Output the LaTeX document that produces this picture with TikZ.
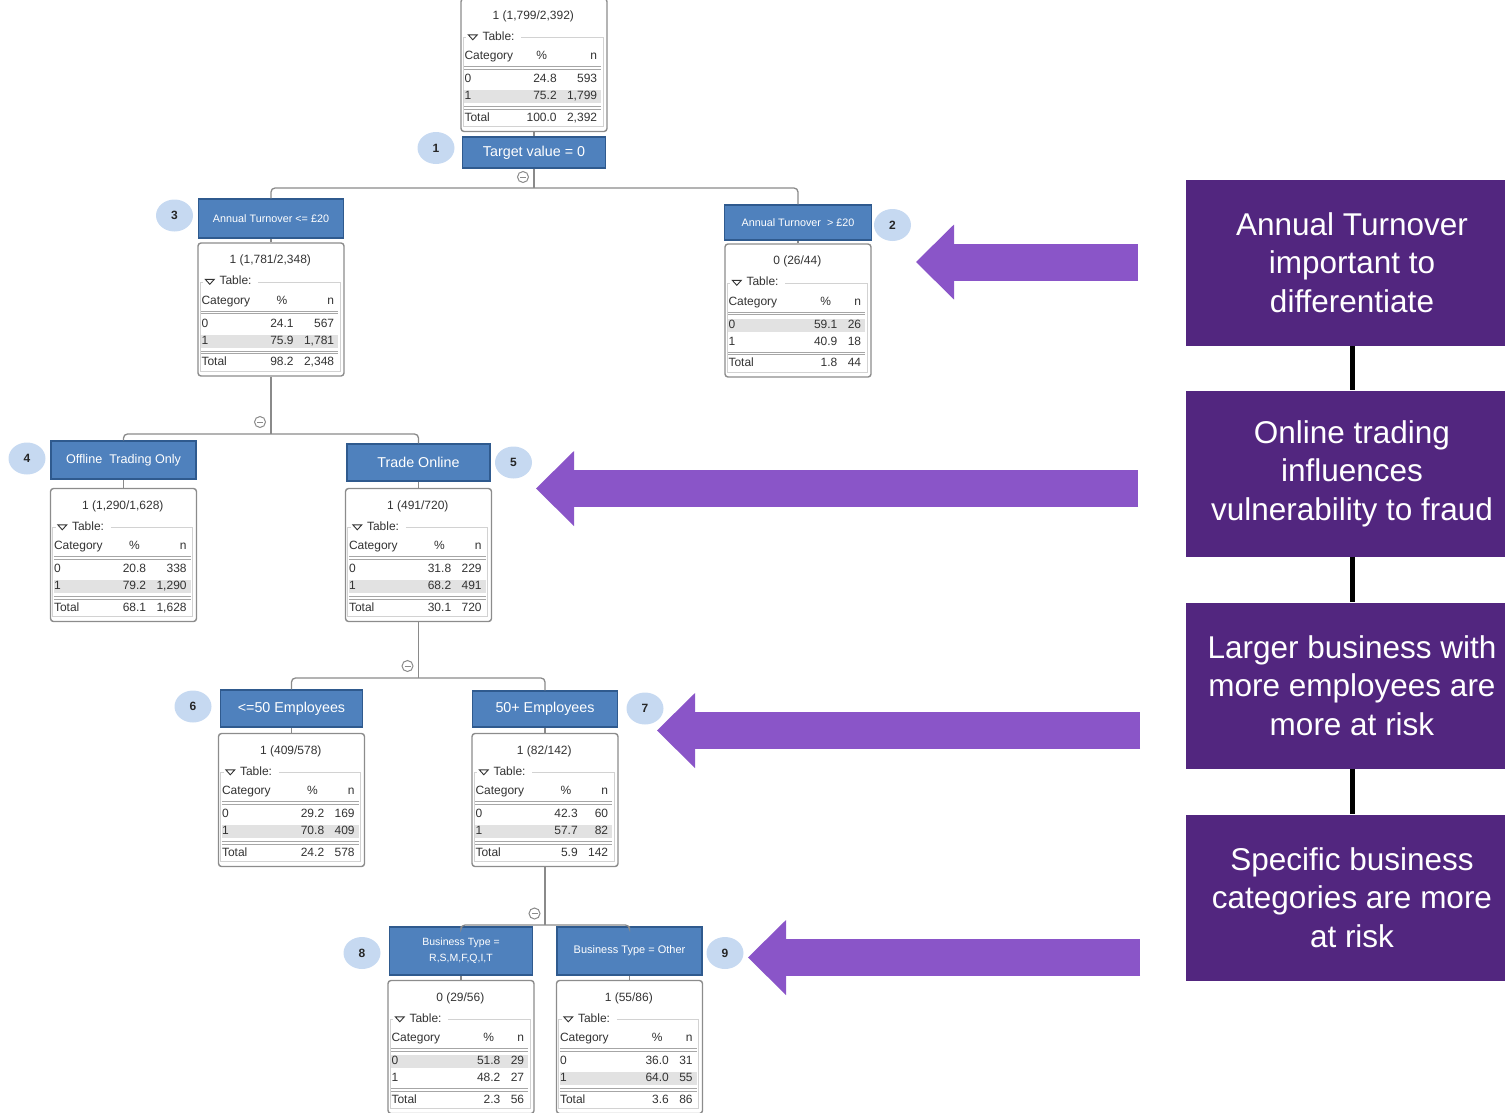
\documentclass[tikz,border=0pt]{standalone}
\usepackage{fontspec}
\setmainfont{Liberation Sans}
\usetikzlibrary{arrows.meta,shapes.geometric}

\definecolor{SplitFill}{HTML}{4F81BD}
\definecolor{SplitEdge}{HTML}{2F5A8E}
\definecolor{BadgeFill}{HTML}{C6D9F1}
\definecolor{LinkGrey}{HTML}{8A8A8A}
\definecolor{FrameGrey}{HTML}{8C8C8C}
\definecolor{TableGrey}{HTML}{D2D2D2}
\definecolor{RowGrey}{HTML}{E2E2E2}
\definecolor{RuleGrey}{HTML}{A6A6A6}
\definecolor{StatText}{HTML}{333333}
\definecolor{FindingPurple}{HTML}{52267F}
\definecolor{PointerPurple}{HTML}{8A55C8}

\newcommand\statfont{\fontsize{12}{14}\selectfont}
% row gaps of the little tables
\newcommand\gapa{\\[9.3pt]}
\newcommand\gapb{\\[2.7pt]}
\newcommand\gapc{\\[7.6pt]}

% statistics panel: name, centre, class, fraction, row 0, row 1, total % ... then total n
\newcommand\statbox[9]{%
  \def\sbname{#1}\def\sbat{#2}\def\sbcls{#3}\def\sbfrac{#4}%
  \def\sbzp{#5}\def\sbzn{#6}\def\sbop{#7}\def\sbon{#8}\def\sbtp{#9}%
  \statboxrest}
\newcommand\statboxrest[1]{%
  \node[statframe] (\sbname) at \sbat {};
  \begin{scope}[shift={(\sbname.north west)}]
    \fill[RowGrey] (4,{75.5+16.7*\sbcls}) rectangle (141,{88.5+16.7*\sbcls});
    \draw[TableGrey, line width=1pt] (61,40) -- (143,40) -- (143,129) -- (3,129) -- (3,40) -- (6,40);
    \draw[StatText, fill=white, line width=0.9pt] (8,37) -- (17,37) -- (12.5,42) -- cycle;
    \draw[RuleGrey, line width=1pt] (4,68.7) -- (141,68.7) (4,71.3) -- (141,71.3);
    \draw[RuleGrey, line width=1pt] (4,108.7) -- (141,108.7) (4,111.3) -- (141,111.3);
    \node[stattext] (\sbname-ttl) at (73,18.5) {\sbcls\ (\sbfrac)};
    \node[stattext, anchor=mid west] (\sbname-tab) at (22,40) {Table:};
    \node[stattext, anchor=base west] (\sbname-cat) at (4,61.8)
      {\begin{tabular}[t]{@{}l@{}}Category\gapa 0\gapb 1\gapc Total\end{tabular}};
    \node[stattext, anchor=base east] (\sbname-n) at (137,61.8)
      {\begin{tabular}[t]{@{}r@{}}n\gapa\sbzn\gapb\sbon\gapc #1\end{tabular}};
    \node[stattext, anchor=base east] (\sbname-pc) at ([xshift=-10pt]\sbname-n.base west)
      {\begin{tabular}[t]{@{}r@{}}\multicolumn{1}{@{}c@{}}{\%}\gapa\sbzp\gapb\sbop\gapc\sbtp\end{tabular}};
  \end{scope}}

\begin{document}
\begin{tikzpicture}[x=1pt, y=-1pt,
    link/.style={draw=LinkGrey, line width=1.3pt},
    statframe/.style={draw=FrameGrey, fill=white, line width=1.4pt, rounded corners=3pt,
      minimum width=146pt, minimum height=133pt, inner sep=0pt},
    stattext/.style={font=\statfont, text=StatText, inner sep=0pt},
    splitbox/.style={draw=SplitEdge, fill=SplitFill, text=white, line width=1.5pt,
      inner sep=1pt, minimum width=144pt, align=center, font=\fontsize{14.3}{16}\selectfont},
    badge/.style={ellipse, fill=BadgeFill, minimum width=37pt, minimum height=32pt, inner sep=0pt,
      font=\fontsize{12}{14}\selectfont\bfseries, text=black!85},
    collapser/.style={circle, draw=LinkGrey, fill=white, line width=1pt, minimum size=11pt, inner sep=0pt,
      path picture={\draw[LinkGrey, line width=1pt]
        ([xshift=-3pt]path picture bounding box.center) -- ([xshift=3pt]path picture bounding box.center);}},
    finding/.style={fill=FindingPurple, text=white, minimum width=332pt, minimum height=166pt,
      inner sep=0pt, align=center, font=\fontsize{31.5}{38.5}\selectfont},
    spine/.style={draw=black, line width=5pt},
    pointer/.style={draw=PointerPurple, line width=37pt,
      -{Triangle[length=38pt, width=75pt, line width=0pt]}}]
\useasboundingbox (0,0) rectangle (1505,1112);

% tree: root
\statbox{s1}{(534,65)}{1}{1,799/2,392}{24.8}{593}{75.2}{1,799}{100.0}{2,392}
\node[splitbox, minimum width=143pt, minimum height=31pt] (t1) at (534,152.5) {Target value = 0};
\node[badge] (k1) at (436,148) {1};

% level 1
\node[splitbox, minimum width=145pt, minimum height=39pt, font=\fontsize{10.8}{12}\selectfont] (t3) at (271,218.5) {Annual Turnover <= £20};
\node[badge] (k3) at (174.5,215.5) {3};
\statbox{s3}{(271,309.5)}{1}{1,781/2,348}{24.1}{567}{75.9}{1,781}{98.2}{2,348}
\node[splitbox, minimum width=147pt, minimum height=35pt, font=\fontsize{10.8}{12}\selectfont] (t2) at (798,222.5) {Annual Turnover\ \ > £20};
\node[badge] (k2) at (892.5,225) {2};
\statbox{s2}{(798,310.5)}{0}{26/44}{59.1}{26}{40.9}{18}{1.8}{44}

% level 2
\node[splitbox, minimum width=145pt, minimum height=38pt, font=\fontsize{12.6}{14}\selectfont] (t4) at (123.5,460) {Offline\ \ Trading Only};
\node[badge] (k4) at (27,458.5) {4};
\statbox{s4}{(123.5,555)}{1}{1,290/1,628}{20.8}{338}{79.2}{1,290}{68.1}{1,628}
\node[splitbox, minimum width=143pt, minimum height=37pt] (t5) at (418.5,462.5) {Trade Online};
\node[badge] (k5) at (513.5,462.5) {5};
\statbox{s5}{(418.5,555)}{1}{491/720}{31.8}{229}{68.2}{491}{30.1}{720}

% level 3
\node[splitbox, minimum width=142pt, minimum height=37pt] (t6) at (291.5,708.5) {<=50 Employees};
\node[badge] (k6) at (193,706.5) {6};
\statbox{s6}{(291.5,800)}{1}{409/578}{29.2}{169}{70.8}{409}{24.2}{578}
\node[splitbox, minimum width=145pt, minimum height=36pt] (t7) at (545,709) {50+ Employees};
\node[badge] (k7) at (645,708.5) {7};
\statbox{s7}{(545,800)}{1}{82/142}{42.3}{60}{57.7}{82}{5.9}{142}

% level 4
\node[splitbox, minimum width=143pt, minimum height=48pt, font=\fontsize{10.5}{16}\selectfont] (t8) at (461,951) {Business Type =\\R,S,M,F,Q,I,T};
\node[badge] (k8) at (362,953) {8};
\statbox{s8}{(461,1047)}{0}{29/56}{51.8}{29}{48.2}{27}{2.3}{56}
\node[splitbox, minimum width=145pt, minimum height=48pt, font=\fontsize{11}{13}\selectfont] (t9) at (629.5,951) {Business Type = Other};
\node[badge] (k9) at (725,953) {9};
\statbox{s9}{(629.5,1047)}{1}{55/86}{36.0}{31}{64.0}{55}{3.6}{86}

% branches
\coordinate (j1) at (534,188);
\coordinate (j3) at (271,434);
\coordinate (j5) at (418.5,678);
\coordinate (j7) at (545,925);
\draw[link] (s1) -- (t1);
\draw[link] (t1) -- (j1);
\draw[link, rounded corners=4pt] (t3.north) |- (j1) -| (t2.north);
\draw[link] (t3) -- (s3);
\draw[link] (t2) -- (s2);
\draw[link] (s3) -- (j3);
\draw[link, rounded corners=4pt] (t4.north) |- (j3) -| (t5.north);
\draw[link] (t4) -- (s4);
\draw[link] (t5) -- (s5);
\draw[link] (s5) -- (j5);
\draw[link, rounded corners=4pt] (t6.north) |- (j5) -| (t7.north);
\draw[link] (t6) -- (s6);
\draw[link] (t7) -- (s7);
\draw[link] (s7) -- (j7);
\draw[link, rounded corners=4pt] (t8.north) |- (j7) -| (t9.north);
\draw[link] (t8) -- (s8);
\draw[link] (t9) -- (s9);
\node[collapser] (m1) at (523,177) {};
\node[collapser] (m3) at (260,422) {};
\node[collapser] (m5) at (407.5,666) {};
\node[collapser] (m7) at (534.5,913.5) {};

% findings
\node[finding] (f1) at (1352,262.5) {Annual Turnover\\important to\\differentiate};
\node[finding] (f2) at (1352,473.5) {Online trading\\influences\\vulnerability to fraud};
\node[finding] (f3) at (1352,685.5) {Larger business with\\more employees are\\more at risk};
\node[finding] (f4) at (1352,897.5) {Specific business\\categories are more\\at risk};
\draw[spine] (f1) -- (f2);
\draw[spine] (f2) -- (f3);
\draw[spine] (f3) -- (f4);

% pointers
\coordinate (a1) at (1138,262);
\coordinate (b1) at (916,262);
\coordinate (a2) at (1138,488.5);
\coordinate (b2) at (536,488.5);
\coordinate (a3) at (1140,730.5);
\coordinate (b3) at (657,730.5);
\coordinate (a4) at (1140,957.5);
\coordinate (b4) at (748,957.5);
\foreach \i in {1,...,4}
  \draw[pointer] (a\i) -- (b\i);
\end{tikzpicture}
\end{document}
